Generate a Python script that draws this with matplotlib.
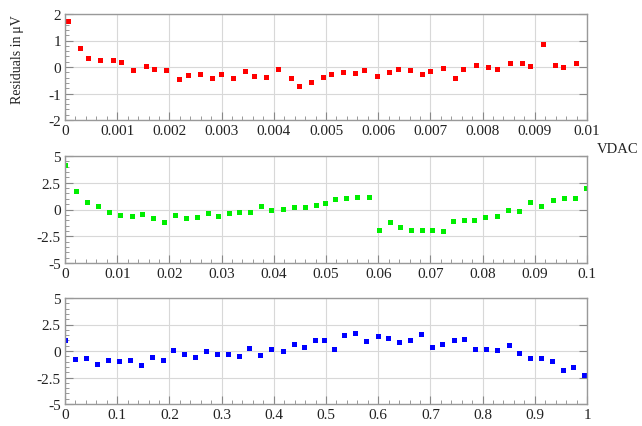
import matplotlib
matplotlib.use("Agg")
import matplotlib.pyplot as plt
from matplotlib.ticker import AutoMinorLocator

plt.rcParams['font.family'] = ['Liberation Serif', 'DejaVu Serif']

x1 = [0.00005, 0.00028, 0.00044, 0.00067, 0.00092, 0.00107, 0.0013, 0.00155, 0.00171, 0.00194,
      0.00219, 0.00235, 0.00258, 0.00281, 0.00299, 0.00321, 0.00345, 0.00363, 0.00385, 0.00409,
      0.00432, 0.00449, 0.00472, 0.00494, 0.00509, 0.00533, 0.00556, 0.00573, 0.00598, 0.00621,
      0.00637, 0.00661, 0.00684, 0.00699, 0.00724, 0.00747, 0.00763, 0.00787, 0.00811, 0.00827,
      0.00852, 0.00875, 0.0089, 0.00915, 0.00938, 0.00954, 0.00979]
y1 = [1.73, 0.70, 0.35, 0.25, 0.27, 0.19, -0.10, 0.03, -0.08, -0.11,
      -0.44, -0.30, -0.28, -0.42, -0.25, -0.41, -0.14, -0.34, -0.38, -0.06,
      -0.42, -0.71, -0.56, -0.37, -0.27, -0.20, -0.23, -0.10, -0.35, -0.20,
      -0.06, -0.13, -0.28, -0.14, -0.03, -0.41, -0.06, 0.06, 0.01, -0.09,
      0.16, 0.16, 0.03, 0.87, 0.08, -0.01, 0.15]

x2 = [0.0, 0.0021, 0.0043, 0.0063, 0.0085, 0.0105, 0.0128, 0.0148, 0.0169, 0.019,
      0.0211, 0.0231, 0.0252, 0.0273, 0.0294, 0.0314, 0.0334, 0.0354, 0.0375, 0.0395,
      0.0417, 0.0438, 0.0459, 0.048, 0.0498, 0.0517, 0.0538, 0.056, 0.0582, 0.0601,
      0.0622, 0.0642, 0.0663, 0.0683, 0.0703, 0.0724, 0.0744, 0.0765, 0.0784, 0.0805,
      0.0828, 0.0849, 0.087, 0.0891, 0.0912, 0.0935, 0.0956, 0.0977, 0.0999]
y2 = [4.2, 1.75, 0.66, 0.34, -0.25, -0.5, -0.59, -0.41, -0.75, -1.19,
      -0.53, -0.81, -0.66, -0.34, -0.62, -0.37, -0.25, -0.25, 0.34, -0.09,
      0.03, 0.25, 0.28, 0.41, 0.59, 1.0, 1.06, 1.16, 1.16, -1.9,
      -1.19, -1.66, -1.9, -1.88, -1.94, -2.03, -1.09, -0.94, -1.0, -0.66,
      -0.59, -0.09, -0.12, 0.69, 0.34, 0.91, 1.06, 1.09, 2.03]

x3 = [0.0, 0.02, 0.04, 0.062, 0.082, 0.103, 0.124, 0.145, 0.166, 0.187,
      0.207, 0.228, 0.249, 0.27, 0.291, 0.312, 0.333, 0.353, 0.374, 0.395,
      0.418, 0.438, 0.458, 0.479, 0.497, 0.5155, 0.535, 0.556, 0.577, 0.599,
      0.619, 0.64, 0.66, 0.682, 0.703, 0.723, 0.745, 0.765, 0.786, 0.807,
      0.828, 0.85, 0.87, 0.89, 0.911, 0.932, 0.954, 0.974, 0.995]
y3 = [1.06, -0.78, -0.62, -1.22, -0.84, -0.94, -0.88, -1.34, -0.59, -0.81,
      0.09, -0.25, -0.53, -0.03, -0.28, -0.31, -0.44, 0.31, -0.41, 0.22,
      0.03, 0.62, 0.34, 1.06, 1.06, 0.22, 1.5, 1.69, 0.97, 1.38,
      1.19, 0.88, 1.06, 1.62, 0.38, 0.66, 1.06, 1.12, 0.19, 0.19,
      0.09, 0.53, -0.22, -0.62, -0.62, -0.94, -1.81, -1.47, -2.25]

xticks1 = [0, 0.001, 0.002, 0.003, 0.004, 0.005, 0.006, 0.007, 0.008, 0.009, 0.01]
xlabels1 = ['0', '0.001', '0.002', '0.003', '0.004', '0.005', '0.006', '0.007', '0.008', '0.009', '0.01']
xticks2 = [0, 0.01, 0.02, 0.03, 0.04, 0.05, 0.06, 0.07, 0.08, 0.09, 0.1]
xlabels2 = ['0', '0.01', '0.02', '0.03', '0.04', '0.05', '0.06', '0.07', '0.08', '0.09', '0.1']
xticks3 = [0, 0.1, 0.2, 0.3, 0.4, 0.5, 0.6, 0.7, 0.8, 0.9, 1]
xlabels3 = ['0', '0.1', '0.2', '0.3', '0.4', '0.5', '0.6', '0.7', '0.8', '0.9', '1']
yticks1 = [-2, -1, 0, 1, 2]
ylabels1 = ['-2', '-1', '0', '1', '2']
yticks23 = [-5, -2.5, 0, 2.5, 5]
ylabels23 = ['-5', '-2.5', '0', '2.5', '5']

fig = plt.figure(figsize=(6.42, 4.27), dpi=100)
left, width = 65/642, (587-65)/642
boxes = [(15, 121), (157, 264), (299, 405)]
panels = [
    (x1, y1, '#ff0000', xticks1, xlabels1, yticks1, ylabels1, (0, 0.01), (-2, 2)),
    (x2, y2, '#00ee00', xticks2, xlabels2, yticks23, ylabels23, (0, 0.1), (-5, 5)),
    (x3, y3, '#0000ff', xticks3, xlabels3, yticks23, ylabels23, (0, 1), (-5, 5)),
]
spine_c = '#999999'
for (top, bot), (xs, ys, c, xt, xl, yt, yl, xlim, ylim) in zip(boxes, panels):
    ax = fig.add_axes([left, 1 - bot/427, width, (bot - top)/427])
    ax.plot(xs, ys, 's', color=c, markersize=3.6, markeredgewidth=0)
    ax.set_xlim(*xlim)
    ax.set_ylim(*ylim)
    ax.set_xticks(xt)
    ax.set_xticklabels(xl)
    ax.set_yticks(yt)
    ax.set_yticklabels(yl)
    ax.xaxis.set_minor_locator(AutoMinorLocator(5))
    ax.yaxis.set_minor_locator(AutoMinorLocator(5))
    ax.grid(True, which='major', color='#d8d8d8', linewidth=0.8)
    ax.tick_params(which='both', direction='in', colors='#888888', labelcolor='#222222',
                   labelsize=11, left=True, right=True, bottom=True, top=False, pad=3)
    ax.tick_params(which='major', length=6, width=0.8)
    ax.tick_params(which='minor', length=3, width=0.6, right=False)
    for s in ax.spines.values():
        s.set_color(spine_c)
        s.set_linewidth(1.0)
    ax.set_axisbelow(True)

fig.text(18/642, 1 - 60/427, 'Residuals in\u2009μV', rotation=90, ha='center', va='center',
         fontsize=10, color='#222222')
fig.text(638/642, 1 - 150/427, 'VDAC', ha='right', va='center', fontsize=10.5, color='#222222')

fig.savefig('out.png', dpi=100)
